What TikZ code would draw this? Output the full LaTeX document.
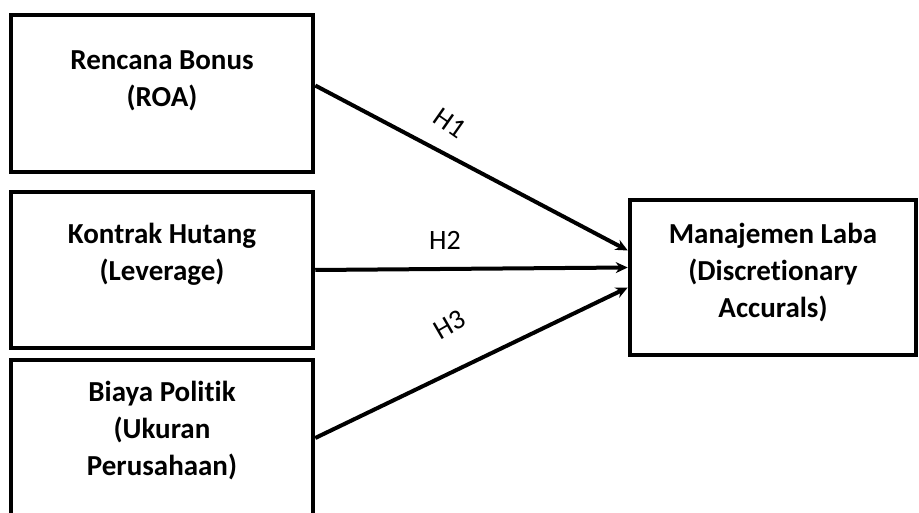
\documentclass[tikz,border=0pt]{standalone}
\usepackage{fontspec}
\setmainfont{Carlito}[Ligatures={NoCommon}]
\usetikzlibrary{arrows.meta, positioning}
\tikzstyle{varbox} = [rectangle, draw=black, line width=4.5pt, inner sep=0pt]
\tikzstyle{vartext} = [font=\fontsize{29}{37}\selectfont\bfseries, align=center, inner sep=0pt]
\tikzstyle{arrow} = [line width=4pt, black, -{Stealth[length=12pt,width=11pt]}]
\tikzstyle{hyp} = [font=\fontsize{28}{30}\selectfont, inner sep=0pt]

\begin{document}
\begin{tikzpicture}[x=1pt, y=-1pt]
                \useasboundingbox (0,0) rectangle (919,513);
                \clip (0,0) rectangle (919,513);

                % Independent variables
                \node[varbox, minimum width=302pt, minimum height=157pt] (rb) at (162,93.5) {};
                \node[vartext] (rbtext) at ([yshift=13pt]rb.center) {Rencana Bonus\\(ROA)};

                \node[varbox, minimum width=302pt, minimum height=156pt] (kh) at (162,270) {};
                \node[vartext] (khtext) at ([yshift=16pt]kh.center) {Kontrak Hutang\\(Leverage)};

                \node[varbox, minimum width=302pt, minimum height=160pt] (bp) at (162,440) {};
                \node[vartext] (bptext) at ([yshift=9pt]bp.center) {Biaya Politik\\(Ukuran\\Perusahaan)};

                % Dependent variable
                \node[varbox, minimum width=286pt, minimum height=155pt] (ml) at (773,277.5) {};
                \node[vartext] (mltext) at ([yshift=5pt]ml.center) {Manajemen Laba\\(Discretionary\\Accurals)};

                % Hypotheses
                \draw[arrow] ([yshift=8pt]rb.east) -- ([yshift=27pt]ml.west);
                \draw[arrow] (kh.east) -- ([yshift=10pt]ml.west);
                \draw[arrow] ([yshift=2pt]bp.east) -- ([yshift=-10pt]ml.west);

                \node[hyp, rotate=-35] (h1) at (450,123) {H1};
                \node[hyp] (h2) at (445,240) {H2};
                \node[hyp, rotate=30] (h3) at (450,325) {H3};
            \end{tikzpicture}
\end{document}
